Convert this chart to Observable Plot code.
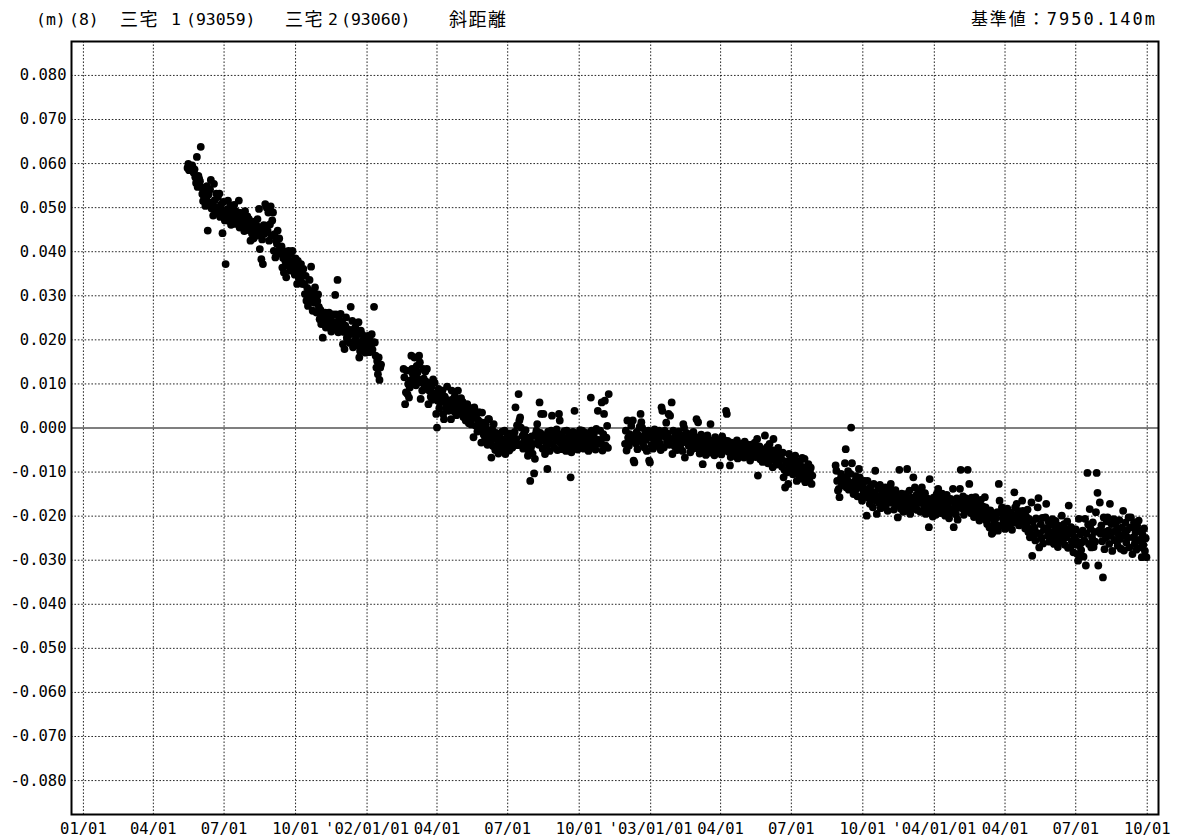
<!DOCTYPE html>
<html>
<head>
<meta charset="utf-8">
<script src="https://cdn.jsdelivr.net/npm/d3@7"></script>
<script src="https://cdn.jsdelivr.net/npm/@observablehq/plot@0.6"></script>
<style>
  html, body { margin: 0; padding: 0; background: #fff; }
  #chart { position: relative; width: 1177px; height: 839px; overflow: hidden; }
  .head { position: relative; height: 38px; color: #000;
          font-family: "DejaVu Sans Mono", "Noto Sans CJK JP", monospace; font-size: 16.5px; }
  .head span { position: absolute; top: 11px; white-space: pre; line-height: 18px; }
  .head span.cjk { font-family: "Noto Sans CJK JP", sans-serif; font-size: 18px; letter-spacing: 1.5px; top: 9px; }
  .head span.ref { font-family: "DejaVu Sans Mono", "Noto Sans CJK JP", monospace; font-size: 17px; letter-spacing: 2px; top: 10px; }
</style>
</head>
<body>
<div id="chart">
  <div class="head" id="head"></div>
</div>
<script>
// Slope distance, Miyake 1 (93059) – Miyake 2 (93060), daily solutions.
// Values are deviations from the reference length, in units of 0.1 mm.

const titleParts = ["(m)", "(8)", "三宅", "1", "(93059)", "三宅", "2", "(93060)", "斜距離"];
const referenceLabel = "基準値：7950.140m";

const tickDates = [
  "2001-01-01", "2001-04-01", "2001-07-01", "2001-10-01",
  "2002-01-01", "2002-04-01", "2002-07-01", "2002-10-01",
  "2003-01-01", "2003-04-01", "2003-07-01", "2003-10-01",
  "2004-01-01", "2004-04-01", "2004-07-01", "2004-10-01"
];
const tickLabels = [
  "01/01", "04/01", "07/01", "10/01",
  "'02/01/01", "04/01", "07/01", "10/01",
  "'03/01/01", "04/01", "07/01", "10/01",
  "'04/01/01", "04/01", "07/01", "10/01"
];
const yTicks = [-0.08, -0.07, -0.06, -0.05, -0.04, -0.03, -0.02, -0.01, 0,
                 0.01, 0.02, 0.03, 0.04, 0.05, 0.06, 0.07, 0.08];

// Segment 1: from 2001-05-15
const seg1Start = "2001-05-15";
const seg1 = `
590 599 585 591 593 588 596 583 579 587
569 556 615 547 572 565 560 638 546 531
515 527 538 504 521 549 448 530 512 541
563 498 508 482 554 517 493 532 500 524
486 532 479 507 495 442 513 488 471 372
479 496 516 470 489 505 461 482 498 475
506 482 463 491 470 478 516 455 488 472
463 485 470 447 492 468 458 480 452 474
448 425 462 441 455 430 468 447 436 459
474 438 497 406 452 383 428 372 460 441
508 459 500 448 489 425 462 503 437 471
489 402 440 387 425 418 448 399 430 410
395 412 364 386 353 401 378 342 392 369
402 380 357 395 366 402 379 372 348 385
357 327 379 342 366 338 372 352 327 361
327 304 345 289 318 277 304 336 296 366
292 266 310 284 319 297 262 288 303 275
247 268 236 259 205 251 240 262 228 245
251 236 262 228 244 219 236 258 241 226
302 258 228 336 217 247 233 259 221 240
190 218 179 232 251 205 198 224 212 193
275 214 243 183 224 198 229 207 219 188
240 160 175 221 196 212 190 183 204 171
205 188 209 190 172 197 184 213 178 195
275 194 164 137 152 122 160 109 137 144`;

// Segment 2: from 2002-02-17
const seg2Start = "2002-02-17";
const seg2 = `
134 115 54 81 130 77 100 69 92 108
164 134 122 103 160 118 97 141 126 110
164 149 66 103 85 134 112 96 128 105
134 88 54 85 102 71 93 64 110 78
103 74 32 1 62 89 45 58 81 66
85 32 20 71 58 46 94 63 39 52
58 20 85 47 66 38 72 51 29 60
85 47 54 33 68 41 59 25 50 38
17 32 54 41 11 26 45 8 37 22
-21 47 24 5 31 -8 18 36 -2 13
-33 35 1 -15 12 -24 8 -6 -38 20
20 -14 -29 -67 -3 -41 9 -22 -50 -11
-44 -29 -58 -15 -36 -23 -49 -8 -31 -40
-6 -59 -29 -42 -18 -35 -51 -12 -27 -45
-44 -21 -33 -9 47 -25 6 -39 77 17
24 1 -36 -18 -47 -12 -28 -5 -41 -22
-63 -51 -30 -120 -44 -19 -58 -36 -103 -70
-14 -6 9 -25 -38 58 -11 32 -20 -47
32 -29 -59 -16 -40 -93 -8 -33 -52 -21
-6 28 -37 -18 -45 -10 -29 -3 -50 -24
32 17 -35 -14 -48 -22 -41 -7 -30 -52
-6 -29 -43 -17 -37 -112 -55 -24 -9 -46
39 -21 -38 -12 -49 -27 -44 -5 -33 -18
-6 -30 -47 -19 -36 -11 -42 -25 -52 -20
-36 69 -6 -20 -44 -13 -31 -49 -2 -27
39 -27 -36 -6 -29 58 -51 -14 32 62 -40 -22 5 -45 77`;

// Segment 3: from 2002-11-29
const seg3Start = "2002-11-29";
const seg3 = `
-36 -6 -51 17 -22 -40 -14 -30 5 -25
17 -74 -78 -20 -35 -9 -48 -16 -28 3
32 13 1 -36 -19 -44 -8 -27 -52 -15
-6 -74 -78 -21 -39 -12 -47 -26 -3 -33
-14 -29 -41 -22 -6 -35 -50 47 39 -18
-44 -6 -20 12 -31 -13 32 -38 28 -25
58 -59 -6 -25 -42 -14 -33 -50 -21 -8
-28 -45 -16 -34 -52 9 1 -67 -23 -11
-33 -14 -40 -26 -55 -18 -31 -47 -9 -27
-33 -21 20 -46 13 -29 -58 -37 -15 -42
-82 -33 -49 -24 -61 -38 -17 -45 -30 -56
9 -44 -28 -53 -36 -62 -21 -40 -48 -31
-36 -52 -85 -44 -60 -19 -49 -27 -40 -31
39 32 -29 -54 -41 -85 -66 -33 -47 -58
-44 -62 -37 -53 -28 -69 -45 -57 -39 -48
-36 -58 -43 -67 -31 -52 -46 -60 -38 -55
-44 -74 -51 -38 -63 -47 -58 -33 -66 -52
-25 -108 -56 -42 -71 -60 -48 -77 -53 -65
-17 -55 -68 -43 -80 -59 -36 -72 -63 -50
-89 -25 -61 -74 -52 -83 -66 -45 -78 -57
-63 -70 -88 -56 -112 -95 -135 -76 -101 -80
-127 -59 -74 -92 -66 -84 -105 -71 -96 -63
-74 -120 -97 -85 -108 -78 -92 -115 -68 -99
-89 -70 -123 -104 -95 -112 -82 -118 -101 -90 -127 -108`;

// Segment 4: from 2003-08-27
const seg4Start = "2003-08-27";
const seg4 = `
-85 -97 -120 -142 -138 -157 -116 -104 -130 -112
-126 -112 -80 -48 -135 -118 -98 -140 -127 -104
1 -80 -131 -150 -122 -144 -109 -137 -155 -126
-93 -112 -135 -157 -165 -128 -146 -120 -152 -139
-199 -120 -158 -141 -172 -133 -161 -149 -180 -127
-146 -97 -165 -195 -154 -138 -170 -129 -182 -160
-142 -180 -156 -167 -135 -174 -150 -188 -162 -145
-135 -127 -157 -170 -148 -185 -162 -141 -176 -153
-203 -172 -95 -160 -183 -149 -168 -190 -157 -177
-150 -188 -93 -164 -176 -142 -195 -158 -171 -183
-112 -165 -135 -178 -152 -186 -161 -143 -170 -190
-157 -135 -188 -166 -179 -148 -195 -172 -160 -183
-225 -116 -165 -190 -174 -201 -158 -183 -168 -197
-150 -188 -138 -172 -160 -193 -177 -149 -185 -165
-165 -199 -178 -152 -188 -170 -205 -183 -161 -192
-165 -138 -225 -188 -174 -196 -160 -208 -181 -170
-138 -95 -165 -182 -155 -197 -172 -186 -160 -178
-95 -188 -127 -170 -193 -158 -181 -166 -202 -175
-157 -188 -165 -196 -174 -210 -182 -163 -192 -178
-203 -180 -157 -180 -210 -218 -192 -205 -226 -187
-225 -240 -237 -198 -214 -229 -205 -220 -191 -233
-127 -165 -191 -222 -180 -204 -213 -195 -229 -187
-206 -183 -218 -197 -225 -210 -192 -231 -202 -215
-146 -180 -199 -172 -209 -188 -221 -196 -214 -203
-165 -188 -210 -192 -228 -200 -217 -185 -236 -206
-248 -229 -169 -290 -212 -243 -226 -255 -205 -238
-180 -159 -271 -240 -218 -250 -204 -262 -231 -227
-203 -172 -228 -245 -212 -258 -236 -219 -250 -207
-218 -263 -234 -211 -249 -226 -270 -241 -222 -255
-233 -199 -256 -241 -218 -265 -229 -248 -212 -272
-176 -240 -271 -225 -258 -236 -282 -247 -264 -230
-256 -286 -301 -206 -268 -241 -277 -259 -233 -292
-255 -206 -312 -240 -102 -219 -263 -184 -228 -271
-249 -214 -270 -236 -258 -191 -102 -147 -312 -233
-169 -240 -221 -257 -339 -203 -275 -236 -248 -212
-203 -233 -263 -172 -245 -218 -279 -236 -207 -254
-218 -256 -230 -267 -241 -209 -252 -274 -226 -245
-188 -278 -239 -215 -260 -232 -249 -203 -271 -226
-203 -225 -286 -248 -214 -262 -237 -276 -221 -254
-210 -233 -256 -271 -293 -242 -265 -228 -279 -250 -293`;

// Expand each daily segment into {date, value} rows (value in metres).
const parseDay = d3.utcParse("%Y-%m-%d");
function expand(start, text) {
  const t0 = parseDay(start);
  return text.trim().split(/\s+/).map((s, i) => ({
    date: d3.utcDay.offset(t0, i),
    value: +s / 10000
  }));
}
const data = [
  ...expand(seg1Start, seg1),
  ...expand(seg2Start, seg2),
  ...expand(seg3Start, seg3),
  ...expand(seg4Start, seg4)
];

const ticks = tickDates.map(parseDay);
const labelByTime = new Map(ticks.map((d, i) => [+d, tickLabels[i]]));

// Header line
const head = document.getElementById("head");
const partLeft = [36, 69, 120, 171, 186, 285, 328, 341, 449];
titleParts.forEach((t, i) => {
  const s = document.createElement("span");
  s.textContent = t;
  if (/[\u3000-\u9fff\uff00-\uffef]/.test(t)) s.className = "cjk";
  s.style.left = partLeft[i] + "px";
  head.appendChild(s);
});
const ref = document.createElement("span");
ref.className = "ref";
ref.textContent = referenceLabel;
ref.style.right = (1177 - 1157) + "px";
head.appendChild(ref);

const xDomain = [new Date(Date.UTC(2000, 11, 16, 16)), new Date(Date.UTC(2004, 9, 15, 12))];
const yDomain = [-0.0877, 0.0877];
const dotted = {stroke: "#000", strokeWidth: 1, strokeDasharray: "1.6,1.8", strokeOpacity: 0.85};

const chart = Plot.plot({
  width: 1177,
  height: 801,
  marginLeft: 71,
  marginRight: 19,
  marginTop: 3,
  marginBottom: 25,
  style: {fontFamily: "'DejaVu Sans Mono', monospace", fontSize: "15.5px", color: "#000", background: "#fff"},
  x: {type: "utc", domain: xDomain, label: null},
  y: {domain: yDomain, label: null},
  marks: [
    Plot.ruleX(ticks, {...dotted}),
    Plot.ruleY(yTicks.filter(v => v !== 0), {...dotted}),
    Plot.ruleY([0], {stroke: "#555", strokeWidth: 1.3}),
    Plot.dot(data, {x: "date", y: "value", r: 3.9, fill: "#000", stroke: "none"}),
    Plot.frame({stroke: "#000", strokeWidth: 2}),
    Plot.axisX({ticks, label: null, tickSize: 0, tickPadding: 8, tickFormat: d => labelByTime.get(+d) ?? ""}),
    Plot.axisY({ticks: yTicks, label: null, tickSize: 0, tickPadding: 5, tickFormat: d => d.toFixed(3)})
  ]
});
document.getElementById("chart").appendChild(chart);
</script>
</body>
</html>
